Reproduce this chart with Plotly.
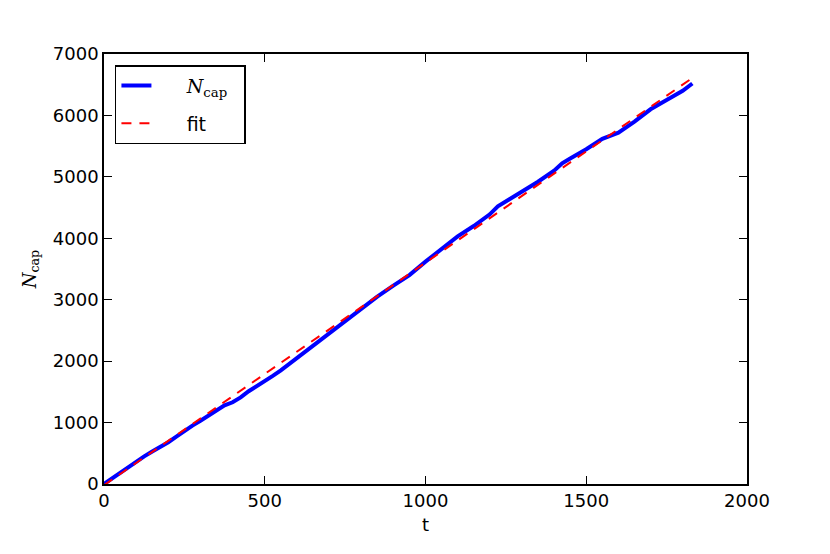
import plotly.graph_objects as go

# captured count over time
t = [0, 25, 50, 75, 100, 125, 150, 175, 200, 225, 250, 275, 300, 325, 350, 375,
     400, 425, 450, 475, 500, 525, 550, 575, 600, 625, 650, 675, 700, 750, 800,
     850, 900, 950, 1000, 1050, 1100, 1150, 1200, 1225, 1250, 1300, 1350, 1400,
     1425, 1450, 1500, 1550, 1600, 1650, 1700, 1750, 1800, 1830]
n_cap = [0, 90, 190, 270, 370, 450, 530, 600, 680, 770, 870, 950, 1030, 1110,
         1200, 1280, 1330, 1410, 1510, 1590, 1680, 1760, 1850, 1950, 2050, 2150,
         2250, 2350, 2450, 2660, 2850, 3050, 3230, 3400, 3620, 3830, 4030, 4200,
         4390, 4520, 4600, 4750, 4920, 5100, 5220, 5300, 5450, 5620, 5720, 5900,
         6100, 6250, 6400, 6520]

# linear fit end points
fit_t = [0, 1830]
fit_n = [-20, 6610]

x_ticks = [0, 500, 1000, 1500, 2000]
y_ticks = [0, 1000, 2000, 3000, 4000, 5000, 6000, 7000]

pad = '&nbsp;' * 5
serif = '<span style="font-family:DejaVu Serif"><i>N</i><sub>cap</sub></span>'

fig = go.Figure()

fig.add_trace(go.Scatter(
    x=t, y=n_cap,
    mode='lines',
    line=dict(color='blue', width=4),
    name=pad + serif + '&nbsp;&nbsp;',
    legendgroup='a'
))

fig.add_trace(go.Scatter(
    x=fit_t, y=fit_n,
    mode='lines',
    line=dict(color='red', width=2, dash='10px,8px'),
    name=pad + 'fit',
    legendgroup='b'
))

axis_style = dict(
    showline=True, linecolor='black', linewidth=1.5, mirror='ticks',
    ticks='inside', ticklen=8, tickwidth=1, tickcolor='black',
    showgrid=False, zeroline=False,
    tickfont=dict(family='DejaVu Sans', size=18, color='black'),
)

fig.update_xaxes(range=[0, 2000], tickvals=x_ticks,
                 title=dict(text='t', font=dict(family='DejaVu Sans', size=18, color='black'), standoff=8),
                 **axis_style)
fig.update_yaxes(range=[0, 7000], tickvals=y_ticks,
                 title=dict(text='<i>N</i><sub>cap</sub>', font=dict(family='DejaVu Serif', size=18, color='black'), standoff=12),
                 **axis_style)

fig.update_layout(
    width=830,
    height=554,
    autosize=False,
    margin=dict(l=96, r=91, t=46, b=78),
    plot_bgcolor='white',
    paper_bgcolor='white',
    showlegend=True,
    legend=dict(
        x=0.017, y=0.974, xanchor='left', yanchor='top',
        bordercolor='black', borderwidth=1.5, bgcolor='white',
        font=dict(family='DejaVu Sans', size=19, color='black'),
        tracegroupgap=10,
    ),
)

fig.write_html("out.html")
